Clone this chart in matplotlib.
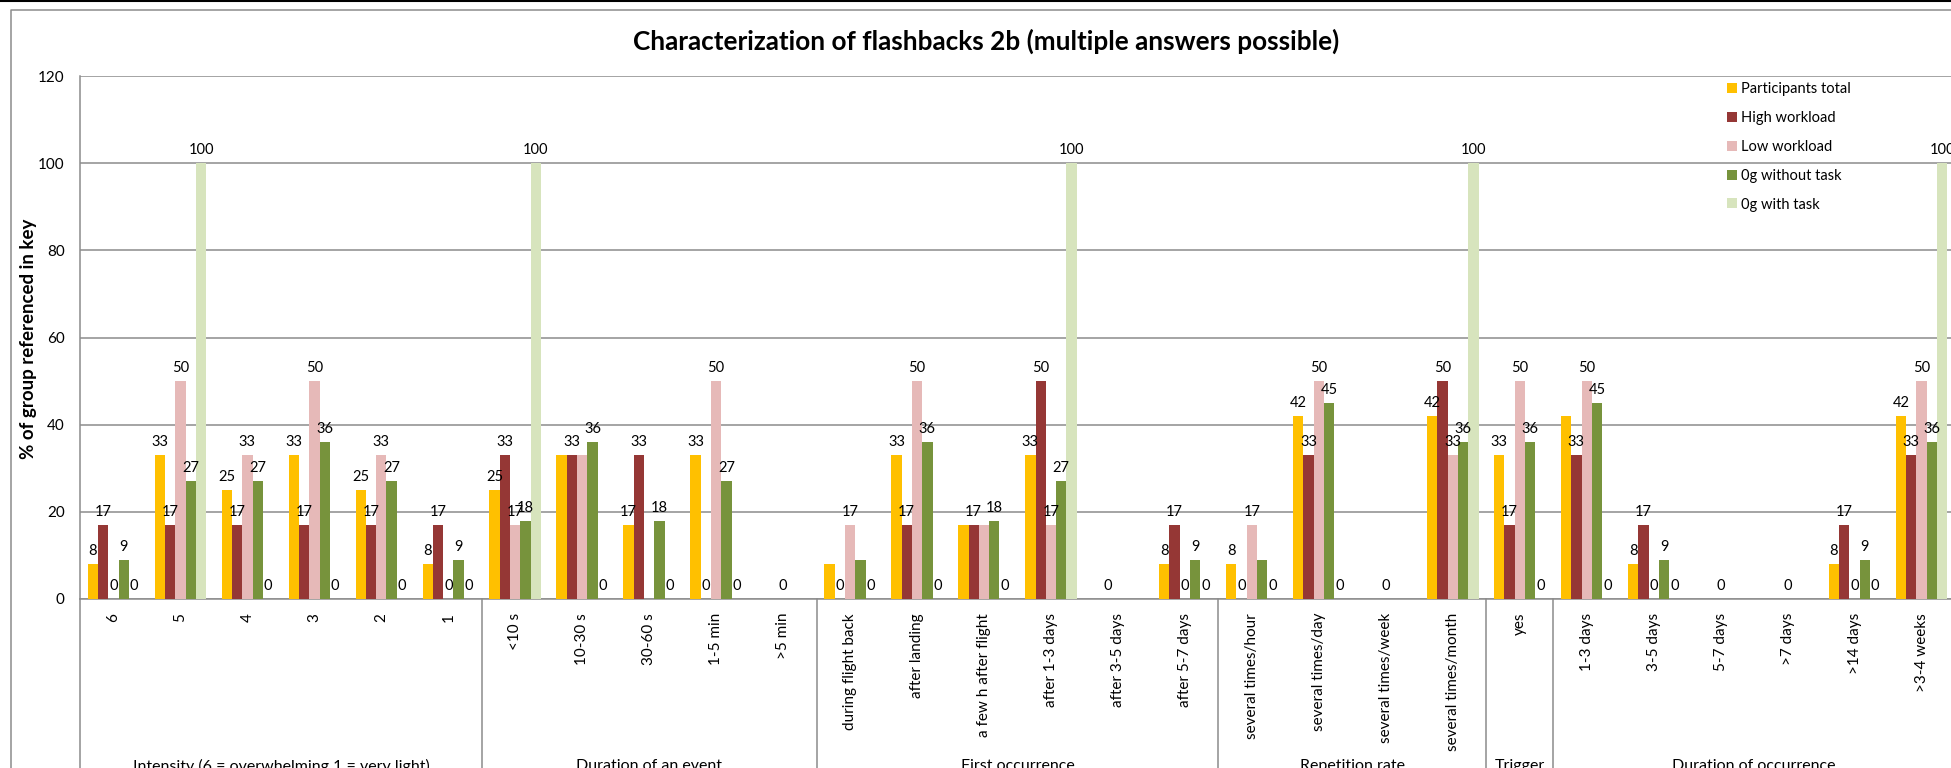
import matplotlib
matplotlib.use("Agg")
import matplotlib.pyplot as plt
import matplotlib.transforms as mtransforms
from matplotlib.lines import Line2D

plt.rcParams['font.family'] = ['Lato', 'DejaVu Sans']

# ---- data -------------------------------------------------------------
categories = [
    "6", "5", "4", "3", "2", "1",
    "<10 s", "10-30 s", "30-60 s", "1-5 min", ">5 min",
    "during flight back", "after landing", "a few h after flight",
    "after 1-3 days", "after 3-5 days", "after 5-7 days",
    "several times/hour", "several times/day", "several times/week",
    "several times/month",
    "yes",
    "1-3 days", "3-5 days", "5-7 days", ">7 days", ">14 days", ">3-4 weeks",
]

groups = ["Intensity (6 = overwhelming 1 = very light)", "Duration of an event",
          "First occurrence", "Repetition rate", "Trigger", "Duration of occurrence"]
group_sizes = [6, 5, 6, 4, 1, 6]

series_names = ["Participants total", "High workload", "Low workload",
                "0g without task", "0g with task"]

participants_total = [8, 33, 25, 33, 25, 8,
                      25, 33, 17, 33, None,
                      8, 33, 17, 33, None, 8,
                      8, 42, None, 42,
                      33,
                      42, 8, None, None, 8, 42]
high_workload = [17, 17, 17, 17, 17, 17,
                 33, 33, 33, 0, None,
                 0, 17, 17, 50, 0, 17,
                 0, 33, None, 50,
                 17,
                 33, 17, None, None, 17, 33]
low_workload = [0, 50, 33, 50, 33, 0,
                17, 33, None, 50, 0,
                17, 50, 17, 17, None, 0,
                17, 50, 0, 33,
                50,
                50, 0, 0, 0, 0, 50]
zero_g_without_task = [9, 27, 27, 36, 27, 9,
                       18, 36, 18, 27, None,
                       9, 36, 18, 27, None, 9,
                       9, 45, None, 36,
                       36,
                       45, 9, None, None, 9, 36]
zero_g_with_task = [0, 100, 0, 0, 0, 0,
                    100, 0, 0, 0, None,
                    0, 0, 0, 100, None, 0,
                    0, 0, None, 100,
                    0,
                    0, 0, None, None, 0, 100]

# bars that carry no value label
unlabelled = [
    ("10-30 s", "Participants total"), ("10-30 s", "Low workload"),
    ("during flight back", "Participants total"),
    ("during flight back", "0g without task"),
    ("a few h after flight", "Participants total"),
    ("a few h after flight", "Low workload"),
    ("several times/hour", "0g without task"),
    ("1-3 days", "Participants total"),
]

y_ticks = [0, 20, 40, 60, 80, 100, 120]

# ---- style ------------------------------------------------------------
colors = ["#FFC000", "#953735", "#E6B9B8", "#77933C", "#D7E4BD"]
grid_gray = "#8C8C8C"
W, H = 1951, 768

fig = plt.figure(figsize=(W / 100, H / 100), dpi=100)
ax_left, ax_right = 80, 1955
ax_top, ax_bottom = 76, 599
ax = fig.add_axes([ax_left / W, 1 - ax_bottom / H,
                   (ax_right - ax_left) / W, (ax_bottom - ax_top) / H])

all_series = [participants_total, high_workload, low_workload,
              zero_g_without_task, zero_g_with_task]
bw = 0.154
n = len(categories)
for si, (name, vals) in enumerate(zip(series_names, all_series)):
    xs = [i + (si - 2) * bw for i, v in enumerate(vals) if v is not None]
    hs = [v for v in vals if v is not None]
    ax.bar(xs, hs, width=bw, color=colors[si], label=name, linewidth=0, zorder=3)
    for i, v in enumerate(vals):
        if v is None or (categories[i], name) in unlabelled:
            continue
        ax.annotate(f"{v:g}", (i + (si - 2) * bw, v), xytext=(0, 6.5),
                    textcoords="offset points", ha="center", va="baseline",
                    fontsize=10.5, color="black", zorder=5)

ax.set_xlim(-0.5, n - 0.5)
ax.set_ylim(0, 120)
ax.set_yticks(y_ticks)
ax.set_yticklabels([str(t) for t in y_ticks])
ax.yaxis.grid(True, color=grid_gray, linewidth=1.1, zorder=0)
ax.set_axisbelow(True)
ax.tick_params(axis="y", length=0, pad=11, labelsize=11)
ax.set_xticks(range(n))
ax.set_xticklabels(categories, rotation=90, fontsize=11)
ax.tick_params(axis="x", length=0, pad=10)
for s in ("top", "right"):
    ax.spines[s].set_visible(False)
for s in ("left", "bottom"):
    ax.spines[s].set_color(grid_gray)
    ax.spines[s].set_linewidth(1.1)

ax.set_ylabel("% of group referenced in key", fontsize=13.5, fontweight="bold")
ax.yaxis.set_label_coords((37 - ax_left) / (ax_right - ax_left),
                          (ax_bottom - 339) / (ax_bottom - ax_top))

# group separators and group names below the category labels
trans = mtransforms.blended_transform_factory(ax.transData, ax.transAxes)
trans_fig = mtransforms.blended_transform_factory(ax.transData, fig.transFigure)
start = 0
bounds = [-0.5]
for g, size in zip(groups, group_sizes):
    end = start + size
    bounds.append(end - 0.5)
    ax.text((start + end - 1) / 2, 1 - 759 / H, g, transform=trans_fig,
            ha="center", va="top", fontsize=11.5)
    start = end
for b in bounds:
    ax.add_line(Line2D([b, b], [0, -0.5], transform=trans, color=grid_gray,
                       linewidth=1.1, clip_on=False))

# legend inside the plot area, top right
leg = fig.legend(loc="upper left", bbox_to_anchor=(1727 / W, 1 - 82 / H),
                 frameon=False, fontsize=10.5, handlelength=0.68,
                 handleheight=0.68, handletextpad=0.25, labelspacing=1.02,
                 borderpad=0, borderaxespad=0)

fig.text(986 / W, 1 - 41 / H,
         "Characterization of flashbacks 2b (multiple answers possible)",
         ha="center", va="center", fontsize=18.8, fontweight="bold")

# chart frame
fig.add_artist(Line2D([0, 1], [1 - 0.6 / H, 1 - 0.6 / H], transform=fig.transFigure,
                      color="black", linewidth=1.5))
fig.add_artist(Line2D([11 / W, 11 / W, 1.01], [-0.01, 1 - 10 / H, 1 - 10 / H],
                      transform=fig.transFigure, color=grid_gray, linewidth=1.1))

fig.savefig("out.png", dpi=100, facecolor="white")
